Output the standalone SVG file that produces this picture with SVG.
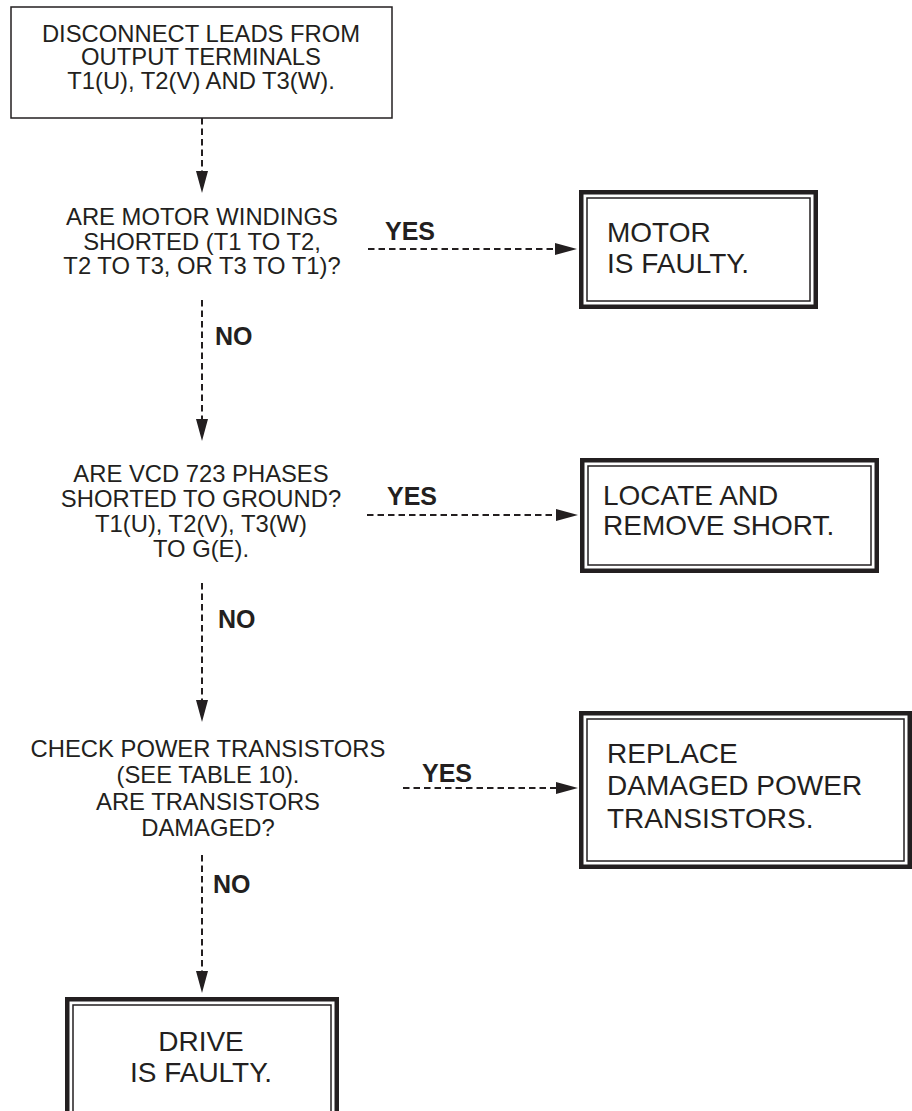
<svg xmlns="http://www.w3.org/2000/svg" width="912" height="1111" viewBox="0 0 912 1111">
  <style>
    .txt { font-family: "Liberation Sans", Arial, sans-serif; font-size: 23.8px; fill: #231f20; }
    .big { font-family: "Liberation Sans", Arial, sans-serif; font-size: 28px; fill: #231f20; }
    .lbl { font-family: "Liberation Sans", Arial, sans-serif; font-size: 25px; font-weight: bold; fill: #231f20; }
    .mid { text-anchor: middle; }
    .plain { fill: #ffffff; stroke: #231f20; stroke-width: 1.5; }
    .outer { fill: #ffffff; stroke: #231f20; stroke-width: 4.5; }
    .inner { fill: none; stroke: #231f20; stroke-width: 1.5; }
    .flow { fill: none; stroke: #231f20; stroke-width: 2; stroke-dasharray: 6.5 4; }
  </style>
  <defs>
    <marker id="arrow" viewBox="0 0 22 12" refX="0" refY="6" markerWidth="22" markerHeight="12" markerUnits="userSpaceOnUse" orient="auto">
      <path d="M0,0 L22,6 L0,12 Z" fill="#231f20"/>
    </marker>
  </defs>

  <!-- connectors -->
  <g id="connectors">
    <path class="flow" d="M202,118 V171" marker-end="url(#arrow)"/>
    <path class="flow" d="M202,300 V419" marker-end="url(#arrow)"/>
    <path class="flow" d="M202,583 V700" marker-end="url(#arrow)"/>
    <path class="flow" d="M202,855 V971" marker-end="url(#arrow)"/>
    <path class="flow" d="M368,249 H555" marker-end="url(#arrow)"/>
    <path class="flow" d="M367,515 H556" marker-end="url(#arrow)"/>
    <path class="flow" d="M403,788 H556" marker-end="url(#arrow)"/>
    <text class="lbl" x="385" y="240">YES</text>
    <text class="lbl" x="215" y="345">NO</text>
    <text class="lbl" x="387" y="505">YES</text>
    <text class="lbl" x="218" y="628">NO</text>
    <text class="lbl" x="422" y="782">YES</text>
    <text class="lbl" x="213" y="893">NO</text>
  </g>

  <!-- start step -->
  <g id="disconnect">
    <rect class="plain" x="11" y="7" width="381" height="111"/>
    <text class="txt mid" x="201" y="41.5">DISCONNECT LEADS FROM</text>
    <text class="txt mid" x="201" y="65">OUTPUT TERMINALS</text>
    <text class="txt mid" x="201" y="88.5">T1(U), T2(V) AND T3(W).</text>
  </g>

  <!-- decisions -->
  <g id="q-windings">
    <text class="txt mid" x="202" y="225">ARE MOTOR WINDINGS</text>
    <text class="txt mid" x="202" y="250">SHORTED (T1 TO T2,</text>
    <text class="txt mid" x="202" y="274">T2 TO T3, OR T3 TO T1)?</text>
  </g>
  <g id="q-ground">
    <text class="txt mid" x="201" y="482">ARE VCD 723 PHASES</text>
    <text class="txt mid" x="201" y="507">SHORTED TO GROUND?</text>
    <text class="txt mid" x="201" y="532">T1(U), T2(V), T3(W)</text>
    <text class="txt mid" x="201" y="557">TO G(E).</text>
  </g>
  <g id="q-transistors">
    <text class="txt mid" x="208" y="757">CHECK POWER TRANSISTORS</text>
    <text class="txt mid" x="208" y="783">(SEE TABLE 10).</text>
    <text class="txt mid" x="208" y="810">ARE TRANSISTORS</text>
    <text class="txt mid" x="208" y="836">DAMAGED?</text>
  </g>

  <!-- outcomes -->
  <g id="motor-faulty">
    <rect class="outer" x="581.25" y="192.25" width="234.5" height="114.5"/>
    <rect class="inner" x="587" y="198" width="223" height="103"/>
    <text class="big" x="607" y="242">MOTOR</text>
    <text class="big" x="607" y="273">IS FAULTY.</text>
  </g>
  <g id="remove-short">
    <rect class="outer" x="582.25" y="460.25" width="294.5" height="110.5"/>
    <rect class="inner" x="588" y="466" width="283" height="99"/>
    <text class="big" x="603" y="505">LOCATE AND</text>
    <text class="big" x="603" y="535">REMOVE SHORT.</text>
  </g>
  <g id="replace-transistors">
    <rect class="outer" x="581.25" y="713.25" width="328.5" height="153.5"/>
    <rect class="inner" x="587" y="719" width="317" height="142"/>
    <text class="big" x="607" y="763">REPLACE</text>
    <text class="big" x="607" y="795">DAMAGED POWER</text>
    <text class="big" x="607" y="828">TRANSISTORS.</text>
  </g>
  <g id="drive-faulty">
    <rect class="outer" x="67.25" y="999.25" width="269.5" height="130"/>
    <rect class="inner" x="73" y="1005" width="258" height="130"/>
    <text class="big mid" x="201" y="1050.5">DRIVE</text>
    <text class="big mid" x="201" y="1082">IS FAULTY.</text>
  </g>
</svg>
